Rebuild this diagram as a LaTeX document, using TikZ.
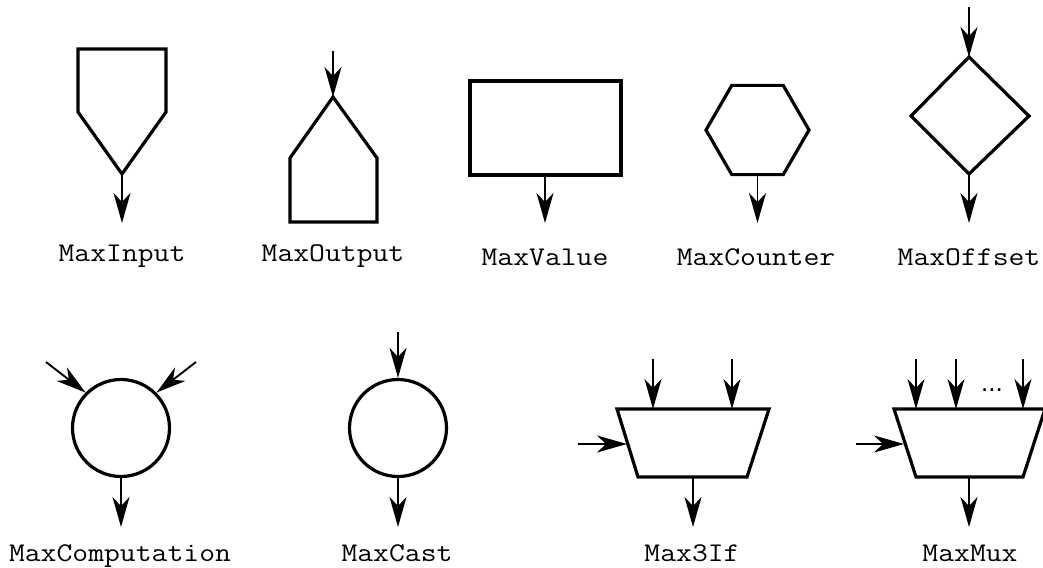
\documentclass[tikz,border=0pt]{standalone}
\usepackage{fontspec}
\newfontfamily\monofnt[FakeStretch=1.14]{Latin Modern Mono}
\newfontfamily\sansfnt{Liberation Sans}
\usetikzlibrary{arrows.meta}
\begin{document}
\begin{tikzpicture}[x=1pt,y=-1pt,
  shp/.style={line width=3.2pt, line join=miter, miter limit=10},
  arr/.style={line width=1.9pt, -{Stealth[length=30pt,width=17pt,inset=9pt]}},
  lbl/.style={font=\monofnt\fontsize{27}{32}\selectfont, inner sep=0pt, anchor=base},
  dots/.style={font=\sansfnt\fontsize{26}{30}\selectfont, inner sep=0pt, anchor=base},
  circ/.style={circle, draw, line width=3.2pt, minimum size=97pt, inner sep=0pt}]
\useasboundingbox (0,0) rectangle (1043,567);

% MaxInput
\draw[shp] (78,49) -- (166,49) -- (166,112) -- (122,174) coordinate (inTip) -- (78,112) -- cycle;
\coordinate (inEnd) at (122,223);
\draw[arr] (inTip) -- (inEnd);
\node[lbl] (lInput) at (122,261) {MaxInput};

% MaxOutput
\coordinate (outSrc) at (333,51);
\draw[shp] (333,97) coordinate (outApex) -- (377,158) -- (377,222) -- (290,222) -- (290,158) -- cycle;
\draw[arr] (outSrc) -- (outApex);
\node[lbl] (lOutput) at (333,261) {MaxOutput};

% MaxValue
\draw[shp] (470,81) rectangle (621,175);
\coordinate (valB) at (545,175);
\coordinate (valEnd) at (545,223);
\draw[arr] (valB) -- (valEnd);
\node[lbl] (lValue) at (545,265) {MaxValue};

% MaxCounter
\draw[shp] (706,130) -- (731.75,85.4) -- (783.25,85.4) -- (809,130) -- (783.25,174.6) -- (731.75,174.6) -- cycle;
\coordinate (cntB) at (757.5,174.6);
\coordinate (cntEnd) at (757.5,223);
\draw[arr] (cntB) -- (cntEnd);
\node[lbl] (lCounter) at (756,265) {MaxCounter};

% MaxOffset
\coordinate (offSrc) at (969,7);
\draw[shp] (969,57) coordinate (offT) -- (1029,116) -- (969,174) coordinate (offB) -- (911,116) -- cycle;
\coordinate (offEnd) at (969,223);
\draw[arr] (offSrc) -- (offT);
\draw[arr] (offB) -- (offEnd);
\node[lbl] (lOffset) at (969,265) {MaxOffset};

% MaxComputation
\node[circ] (comp) at (121,428) {};
\coordinate (compIn1) at (46,362);
\coordinate (compIn2) at (196,362);
\coordinate (compEnd) at (121,527);
\draw[arr] (compIn1) -- (comp.north west);
\draw[arr] (compIn2) -- (comp.north east);
\draw[arr] (comp.south) -- (compEnd);
\node[lbl] (lComp) at (120,561) {MaxComputation};

% MaxCast
\node[circ] (cast) at (398,428) {};
\coordinate (castSrc) at (398,332);
\coordinate (castEnd) at (398,527);
\draw[arr] (castSrc) -- (cast.north);
\draw[arr] (cast.south) -- (castEnd);
\node[lbl] (lCast) at (397,561) {MaxCast};

% Max3If
\draw[shp] (617,409) -- (769,409) -- (747,477) -- (638,477) -- cycle;
\coordinate (ifS1) at (653,359);  \coordinate (ifT1) at (653,409);
\coordinate (ifS2) at (732,359);  \coordinate (ifT2) at (732,409);
\coordinate (ifS3) at (578,444);  \coordinate (ifT3) at (627,444);
\coordinate (ifB) at (693,477);   \coordinate (ifEnd) at (693,527);
\draw[arr] (ifS1) -- (ifT1);
\draw[arr] (ifS2) -- (ifT2);
\draw[arr] (ifS3) -- (ifT3);
\draw[arr] (ifB) -- (ifEnd);
\node[lbl] (lIf) at (692,561) {Max3If};

% MaxMux
\draw[shp] (894,409) -- (1045,409) -- (1023,477) -- (916,477) -- cycle;
\coordinate (muxS1) at (916,359);  \coordinate (muxT1) at (916,409);
\coordinate (muxS2) at (956,359);  \coordinate (muxT2) at (956,409);
\coordinate (muxS3) at (1023,359); \coordinate (muxT3) at (1023,409);
\coordinate (muxS4) at (856,444);  \coordinate (muxT4) at (904,444);
\coordinate (muxB) at (969,477);   \coordinate (muxEnd) at (969,527);
\draw[arr] (muxS1) -- (muxT1);
\draw[arr] (muxS2) -- (muxT2);
\draw[arr] (muxS3) -- (muxT3);
\draw[arr] (muxS4) -- (muxT4);
\draw[arr] (muxB) -- (muxEnd);
\node[dots] (muxDots) at (992,391) {...};
\node[lbl] (lMux) at (970,561) {MaxMux};
\end{tikzpicture}
\end{document}
